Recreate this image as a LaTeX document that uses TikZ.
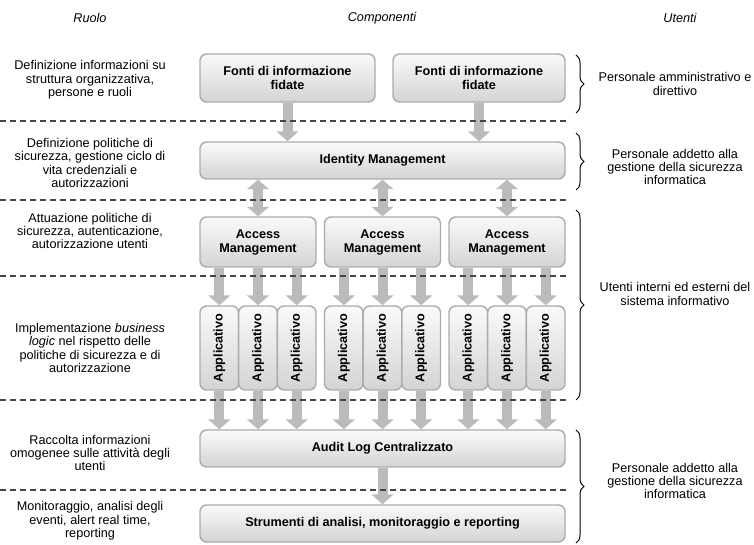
\documentclass[tikz,border=0pt]{standalone}
\usepackage{fontspec}
\setmainfont{Liberation Sans}
\usetikzlibrary{arrows.meta,decorations.pathreplacing}

\definecolor{boxline}{RGB}{172,172,172}
\definecolor{boxtop}{RGB}{250,250,250}
\definecolor{boxbot}{RGB}{212,212,212}
\definecolor{flowgray}{RGB}{187,187,187}
\definecolor{sepgray}{RGB}{70,70,70}

\tikzset{every picture/.style={line width=0.75pt}}
\tikzset{
	comp/.style={draw=boxline, line width=1.1pt, rounded corners=5pt, top color=boxtop, bottom color=boxbot, font=\fontsize{9.5}{10.5}\selectfont\bfseries, align=center, inner sep=0pt},
	widebox/.style={comp, minimum width=273.75pt, minimum height=27.75pt},
	accbox/.style={comp, minimum width=87pt, minimum height=37.5pt},
	appbox/.style={comp, minimum width=29pt, minimum height=63pt},
	flow/.style={draw=flowgray, line width=7.5pt, -{Triangle[length=7.5pt,width=16.5pt]}},
	dflow/.style={draw=flowgray, line width=7.5pt, {Triangle[length=7pt,width=16pt]}-{Triangle[length=7pt,width=16pt]}},
	sep/.style={draw=sepgray, line width=0.8pt, dash pattern=on 4.5pt off 3pt},
	brc/.style={decorate, decoration={brace,amplitude=6pt}, line width=0.75pt},
	txt/.style={font=\fontsize{9.5}{10}\selectfont, align=center, inner sep=0pt},
	head/.style={txt, font=\fontsize{9.5}{10}\selectfont\itshape}
}

\begin{document}
\begin{tikzpicture}[x=0.75pt,y=0.75pt,yscale=-1,xscale=1]
	\useasboundingbox (0,0) rectangle (754,545);

	% Text Node
	\node[head] (hruolo) at (90,18) {Ruolo};
	% Text Node
	\node[head] (hcomp) at (382,18) {Componenti};
	% Text Node
	\node[head] (hutenti) at (680,18) {Utenti};

	%Shape: Rectangle [fonti]
	\node[comp, minimum width=131.25pt, minimum height=36pt] (fonti1) at (287.5,78) {Fonti di informazione\\fidate};
	\node[comp, minimum width=129pt, minimum height=36pt] (fonti2) at (479,78) {Fonti di informazione\\fidate};
	%Shape: Rectangle [identity]
	\node[widebox] (idm) at (382.5,160.5) {Identity Management};
	%Shape: Rectangle [access]
	\node[accbox] (acc1) at (258,242) {Access\\Management};
	\node[accbox] (acc2) at (382.5,242) {Access\\Management};
	\node[accbox] (acc3) at (507,242) {Access\\Management};
	%Shape: Rectangle [applicativi]
	\foreach \a in {1,2,3}
		\foreach \b in {1,2,3}
			\node[appbox] (app\a\b) at ({200+(\a-1)*124.5+(\b-0.5)*38.67},348) {\rotatebox{90}{Applicativo}};
	%Shape: Rectangle [audit]
	\node[widebox] (audit) at (382.5,448.5) {Audit Log Centralizzato};
	%Shape: Rectangle [strumenti]
	\node[widebox] (strum) at (382.5,523.5) {Strumenti di analisi, monitoraggio e reporting};

	%Straight Lines [flows]
	\draw[flow] (fonti1.south) -- (fonti1.south |- idm.north);
	\draw[flow] (fonti2.south) -- (fonti2.south |- idm.north);
	\foreach \a in {1,2,3} {
		\draw[dflow] (acc\a.north |- idm.south) -- (acc\a.north);
		\foreach \b in {1,2,3} {
			\draw[flow] (app\a\b.north |- acc\a.south) -- (app\a\b.north);
			\draw[flow] (app\a\b.south) -- (app\a\b.south |- audit.north);
		}
	}
	\draw[flow] (audit.south) -- (strum.north);

	%Straight Lines [separators]
	\foreach \y in {121,200,276,400,490}
		\draw[sep] (0,\y) -- (566,\y);

	%Braces
	\draw[brc] (576,55) -- (576,113);
	\draw[brc] (576,133) -- (576,190);
	\draw[brc] (576,210) -- (576,400);
	\draw[brc] (576,430) -- (576,543);

	% Text Node
	\node[txt] (ruolo1) at (90,80) {Definizione informazioni su\\struttura organizzativa,\\persone e ruoli};
	% Text Node
	\node[txt] (ruolo2) at (90,163) {Definizione politiche di\\sicurezza, gestione ciclo di\\vita credenziali e\\autorizzazioni};
	% Text Node
	\node[txt] (ruolo3) at (90,231) {Attuazione politiche di\\sicurezza, autenticazione,\\autorizzazione utenti};
	% Text Node
	\node[txt] (ruolo4) at (90,348) {Implementazione \textit{business}\\\textit{logic} nel rispetto delle\\politiche di sicurezza e di\\autorizzazione};
	% Text Node
	\node[txt] (ruolo5) at (90,453) {Raccolta informazioni\\omogenee sulle attività degli\\utenti};
	% Text Node
	\node[txt] (ruolo6) at (90,521) {Monitoraggio, analisi degli\\eventi, alert real time,\\reporting};

	% Text Node
	\node[txt] (utenti1) at (675,84) {Personale amministrativo e\\direttivo};
	% Text Node
	\node[txt] (utenti2) at (675,167) {Personale addetto alla\\gestione della sicurezza\\informatica};
	% Text Node
	\node[txt] (utenti3) at (675,294) {Utenti interni ed esterni del\\sistema informativo};
	% Text Node
	\node[txt] (utenti4) at (675,481) {Personale addetto alla\\gestione della sicurezza\\informatica};

\end{tikzpicture}
\end{document}
